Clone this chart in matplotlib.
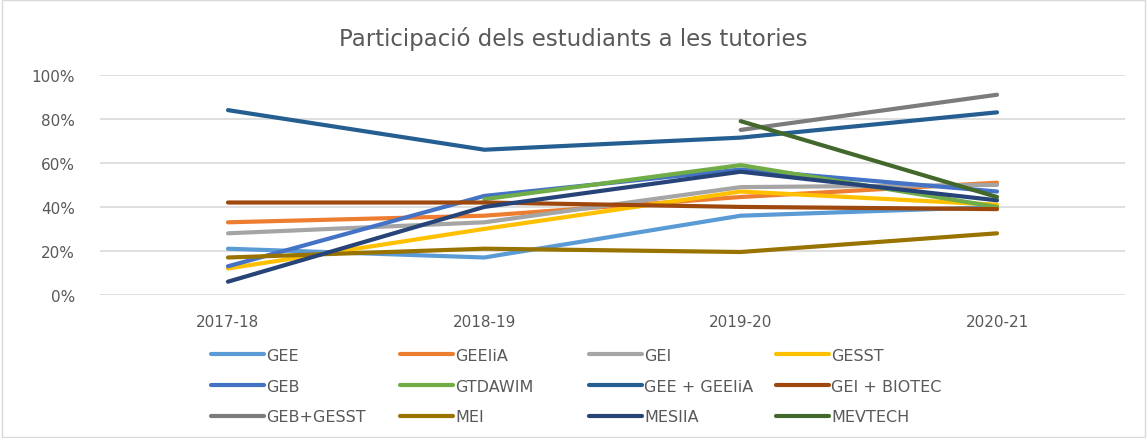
import numpy as np
import matplotlib
matplotlib.use("Agg")
import matplotlib.pyplot as plt
from matplotlib.patches import Rectangle
from matplotlib.ticker import FuncFormatter

years = ["2017-18", "2018-19", "2019-20", "2020-21"]
nan = np.nan
series_names = ["GEE", "GEEIiA", "GEI", "GESST", "GEB", "GTDAWIM",
                "GEE + GEEIiA", "GEI + BIOTEC", "GEB+GESST", "MEI", "MESIIA", "MEVTECH"]
GEE = [0.21, 0.17, 0.36, 0.40]
GEEIiA = [0.33, 0.36, 0.445, 0.51]
GEI = [0.28, 0.33, 0.49, 0.50]
GESST = [0.12, 0.30, 0.47, 0.41]
GEB = [0.13, 0.45, 0.57, 0.47]
GTDAWIM = [nan, 0.435, 0.59, 0.40]
GEE_GEEIiA = [0.84, 0.66, 0.715, 0.83]
GEI_BIOTEC = [0.42, 0.42, 0.40, 0.39]
GEB_GESST = [nan, nan, 0.75, 0.91]
MEI = [0.17, 0.21, 0.195, 0.28]
MESIIA = [0.06, 0.40, 0.56, 0.43]
MEVTECH = [nan, nan, 0.79, 0.445]
values = [GEE, GEEIiA, GEI, GESST, GEB, GTDAWIM, GEE_GEEIiA, GEI_BIOTEC,
          GEB_GESST, MEI, MESIIA, MEVTECH]
colors = ["#5B9BD5", "#ED7D31", "#A5A5A5", "#FFC000", "#4472C4", "#70AD47",
          "#255E91", "#9E480E", "#7C7C7C", "#997300", "#264478", "#43682B"]

plt.rcParams['font.family'] = ['DejaVu Sans']
fig = plt.figure(figsize=(11.47, 4.39), dpi=100)
ax = fig.add_axes([0.087, 0.326, 0.894, 0.501])
x = np.arange(len(years))
handles = []
for name, v, c in zip(series_names, values, colors):
    h, = ax.plot(x, v, color=c, lw=3, label=name, solid_capstyle='round')
    handles.append(h)

ax.set_xlim(-0.5, 3.5)
ax.set_ylim(0, 1.0)
ax.set_yticks(np.arange(0, 1.01, 0.2))
ax.yaxis.set_major_formatter(FuncFormatter(lambda v, p: f"{v*100:.0f}%"))
ax.set_xticks(x)
ax.set_xticklabels(years)
ax.grid(axis='y', color='#D9D9D9', lw=1.2)
ax.set_axisbelow(True)
for s in ax.spines.values():
    s.set_visible(False)
ax.tick_params(length=0, labelsize=11, colors='#595959')
ax.tick_params(axis='x', pad=14)
ax.tick_params(axis='y', pad=18)

fig.text(0.5, 0.912, "Participació dels estudiants a les tutories", ha='center',
         va='center', fontsize=16.5, color='#595959')

col_x = [0.184, 0.349, 0.5135, 0.6766]
for ci in range(4):
    idx = [ci, ci + 4, ci + 8]
    leg = fig.legend([handles[i] for i in idx], [series_names[i] for i in idx],
                     loc='upper left', bbox_to_anchor=(col_x[ci], 0.205),
                     frameon=False, fontsize=11.5, handlelength=3.3, handletextpad=0.15,
                     labelspacing=0.98, borderpad=0, borderaxespad=0)
    for t in leg.get_texts():
        t.set_color('#595959')

fig.patches.append(Rectangle((0.002, 0.003), 0.996, 0.994, transform=fig.transFigure,
                             fill=False, edgecolor='#D9D9D9', lw=1))
fig.savefig("out.png", dpi=100)
